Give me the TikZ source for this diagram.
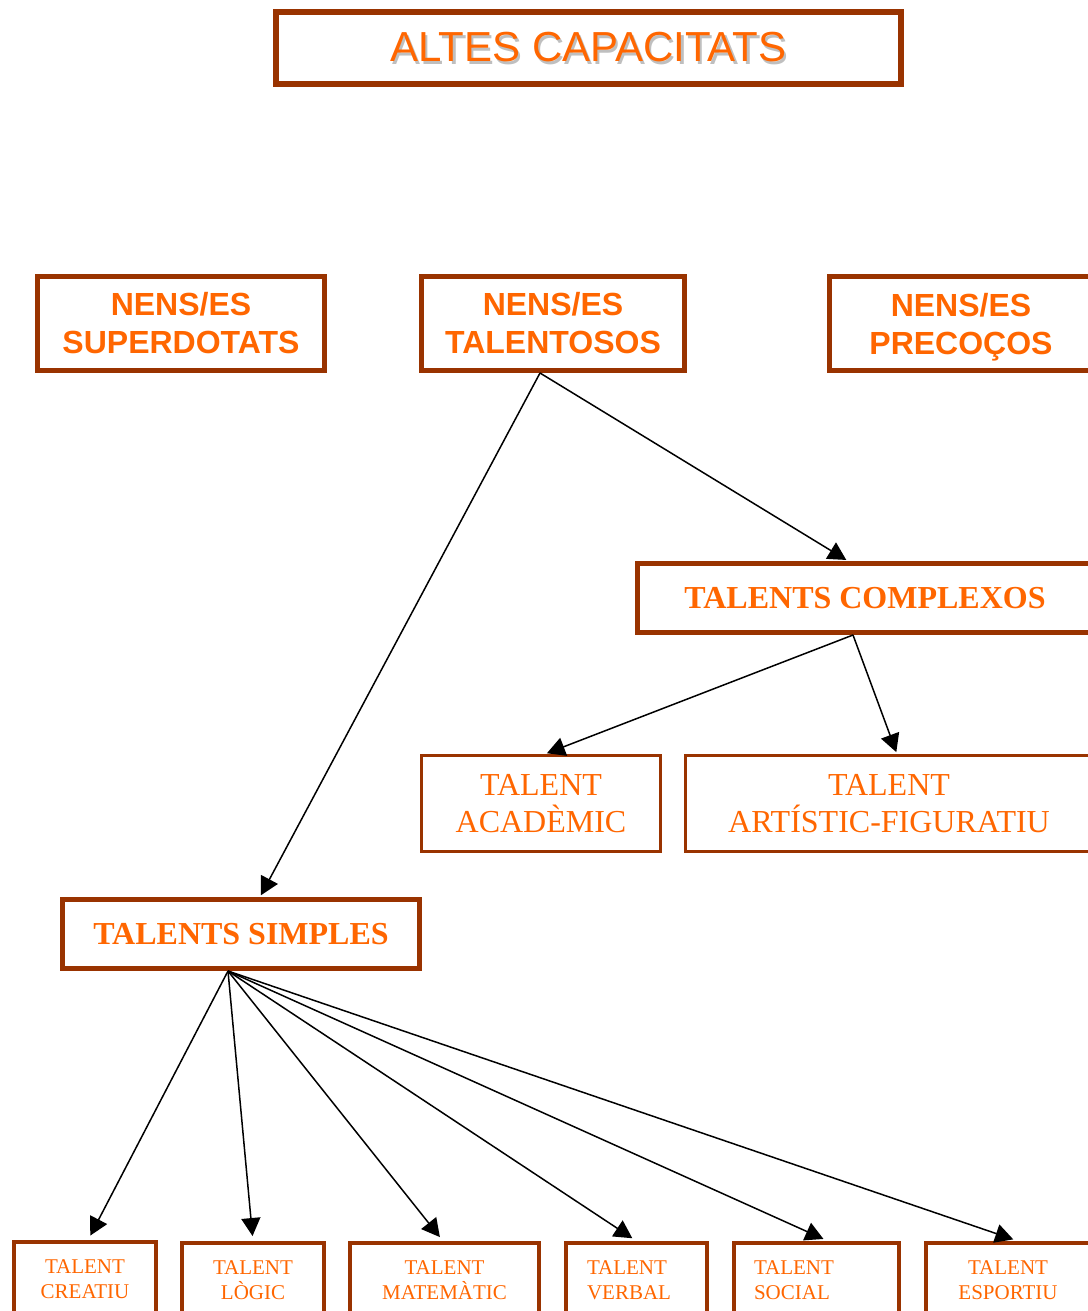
\documentclass[tikz,border=0pt]{standalone}
\usepackage{fontspec}
\setmainfont{Liberation Serif}
\setsansfont{Liberation Sans}
\usepackage{tikz}
\usetikzlibrary{arrows.meta, positioning, calc}

\definecolor{boxbrown}{HTML}{993300}
\definecolor{txtorange}{HTML}{FF6600}
\newcommand{\shadowed}[1]{\makebox[0pt][l]{\hspace{1.2pt}\raisebox{-1.2pt}{\textcolor{black!25}{#1}}}#1}

\begin{document}
\begin{tikzpicture}[x=0.5pt, y=-0.5pt,
    box/.style={draw=boxbrown, text=txtorange, align=center, inner sep=0pt},
    title/.style={box, line width=3pt, font=\sffamily\fontsize{21}{25}\selectfont},
    kids/.style={box, line width=2.5pt, minimum height=47pt, font=\sffamily\bfseries\fontsize{16}{19}\selectfont},
    group/.style={box, line width=2.5pt, minimum height=34.5pt, font=\bfseries\fontsize{16}{19}\selectfont},
    talent/.style={box, line width=1.5pt, minimum height=48pt, font=\fontsize{16}{18.5}\selectfont},
    small/.style={box, line width=2pt, minimum height=37.5pt, font=\fontsize{10.5}{12.5}\selectfont},
    leftsmall/.style={small, align=left, text width=#1},
    link/.style={-{Triangle[length=9pt,width=9.5pt]}, line width=0.75pt}
]
\useasboundingbox (0,0) rectangle (1087,1311);

% Title
\node[title, minimum width=312.5pt, minimum height=36pt] (altes) at (588.5,48.5) {\shadowed{ALTES CAPACITATS}};

% Three kinds of children
\node[kids, minimum width=143.5pt] (superd) at (181,323.5) {NENS/ES\\SUPERDOTATS};
\node[kids, minimum width=131.5pt] (talent) at (553,323.5) {NENS/ES\\TALENTOSOS};
\node[kids, minimum width=131.5pt] (precoc) at (961,323.5) {NENS/ES\\\smash{PRECOÇOS}};

% Complex talents
\node[group, minimum width=227.5pt] (complex) at (865,598) {TALENTS COMPLEXOS};
\node[talent, minimum width=119.5pt] (academ) at (541,803.5) {TALENT\\ACADÈMIC};
\node[talent, minimum width=203.5pt] (artist) at (889,803.5) {TALENT\\ARTÍSTIC-FIGURATIU};

% Simple talents
\node[group, minimum width=178.5pt] (simple) at (241,934) {TALENTS SIMPLES};
\node[small, minimum width=71pt] (creat) at (85,1279.5) {TALENT\\CREATIU};
\node[small, minimum width=71pt] (logic) at (253,1280.5) {TALENT\\LÒGIC};
\node[small, minimum width=94.5pt] (matem) at (444.5,1280.5) {TALENT\\MATEMÀTIC};
\node[leftsmall=49.5pt, minimum width=70.5pt] (verbal) at (636.5,1280.5) {TALENT\\VERBAL};
\node[leftsmall=62.5pt, minimum width=82.5pt] (social) at (816.5,1280.5) {TALENT\\SOCIAL};
\node[small, minimum width=82pt] (esport) at (1008,1280.5) {TALENT\\ESPORTIU};

% Arrows
\draw[link, shorten >=1pt] ($(talent.south)+(-13,0)$) -- ($(simple.north)+(19,0)$);
\draw[link, shorten >=1pt] ($(talent.south)+(-13,0)$) -- ($(complex.north)+(-17,0)$);
\draw[link, shorten >=1pt] ($(complex.south)+(-12,0)$) -- ($(academ.north)+(4,0)$);
\draw[link, shorten >=1pt] ($(complex.south)+(-12,0)$) -- ($(artist.north)+(8,0)$);
\foreach \n/\s in {creat/3, logic/0, matem/-1.5, verbal/0, social/11.5, esport/10}
    \draw[link, shorten >=2.5pt] ($(simple.south)+(-13,0)$) -- ($(\n.north)+(\s,0)$);

\end{tikzpicture}
\end{document}
